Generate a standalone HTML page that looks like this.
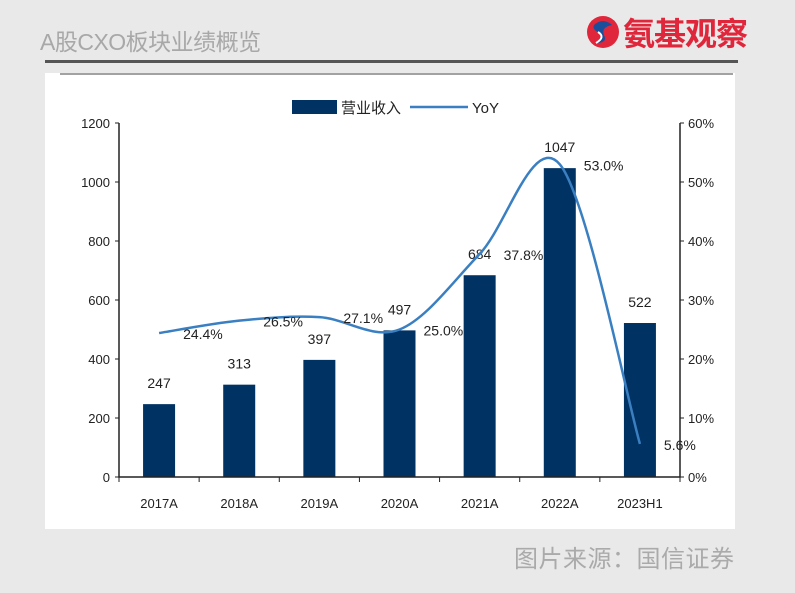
<!DOCTYPE html>
<html><head><meta charset="utf-8">
<style>
body{margin:0;width:795px;height:593px;overflow:hidden;background:#e9e9e9;font-family:"Liberation Sans","Noto Sans CJK SC",sans-serif;position:relative}
.title{position:absolute;left:40px;top:27px;font-size:23px;color:#a8a8a8;letter-spacing:-0.5px;line-height:30px}
.logo{position:absolute;left:586px;top:13px;height:38px;display:flex;align-items:center}
.logo span{font-size:32px;font-weight:bold;color:#e0263a;margin-left:3px;letter-spacing:-1px}
.hline{position:absolute;left:45px;top:60px;width:693px;height:3px;background:#555}
.panel{position:absolute;left:45px;top:73px;width:690px;height:456px;background:#fff}
.src{position:absolute;left:514px;top:539px;font-size:24px;color:#aaa;letter-spacing:0.5px}
</style></head><body>
<div class="title">A股CXO板块业绩概览</div>
<div class="logo">
<svg width="34" height="34" viewBox="0 0 34 34"><circle cx="17" cy="17" r="16" fill="#e0263a"/><path d="M8 10 Q17 2 26 10 Q15 12 18 20 Q22 28 10 28 Q20 22 12 17 Q6 14 8 10Z" fill="#1b4f9c"/><path d="M12 17 Q20 22 10 28" fill="none" stroke="#fff" stroke-width="2"/></svg>
<span>氨基观察</span></div>
<div class="hline"></div>
<div class="panel"></div>
<svg id="chart" width="795" height="593" style="position:absolute;left:0;top:0"></svg>
<div class="src">图片来源：国信证券</div>
<script>
const categories=["2017A","2018A","2019A","2020A","2021A","2022A","2023H1"];
const revenue=[247,313,397,497,684,1047,522];
const yoy=[24.4,26.5,27.1,25.0,37.8,53.0,5.6];
const leftTicks=[0,200,400,600,800,1000,1200];
const rightTicks=[0,10,20,30,40,50,60];
const NS="http://www.w3.org/2000/svg";
const svg=document.getElementById('chart');
const X0=119,X1=680,Y0=477,Y1=123;
const band=(X1-X0)/categories.length;
const xc=i=>X0+band*(i+0.5);
const yL=v=>Y0-(v/1200)*(Y0-Y1);
const yR=v=>Y0-(v/60)*(Y0-Y1);
function mk(t,a,txt){const e=document.createElementNS(NS,t);for(const k in a)e.setAttribute(k,a[k]);if(txt!==undefined)e.textContent=txt;svg.appendChild(e);return e;}
let e=mk('line',{x1:60,y1:74,x2:733,y2:74,stroke:'#444','stroke-width':1});

revenue.forEach((v,i)=>{
 let r=mk('rect',{x:xc(i)-16,y:yL(v),width:32,height:Y0-yL(v),fill:'#003263'});
 
 let t=mk('text',{x:xc(i),y:yL(v)-16,'text-anchor':'middle','font-size':14,fill:'#222'},String(v));
 
});
e=mk('path',{d:`M${X0} ${Y1}V${Y0}H${X1}V${Y1}`,fill:'none',stroke:'#222','stroke-width':1.5});

leftTicks.forEach(v=>{
 mk('line',{x1:X0-4,x2:X0,y1:yL(v),y2:yL(v),stroke:'#222'});
 let t=mk('text',{x:X0-9,y:yL(v)+5,'text-anchor':'end','font-size':13,fill:'#222'},String(v));
 
});
rightTicks.forEach(v=>{
 mk('line',{x1:X1,x2:X1+4,y1:yR(v),y2:yR(v),stroke:'#222'});
 let t=mk('text',{x:X1+8,y:yR(v)+5,'font-size':13,fill:'#222'},v+'%');
 
});
for(let i=0;i<=categories.length;i++){mk('line',{x1:X0+band*i,x2:X0+band*i,y1:Y0,y2:Y0+5,stroke:'#222'});}
categories.forEach((c,i)=>{
 let t=mk('text',{x:xc(i),y:Y0+31,'text-anchor':'middle','font-size':13,fill:'#222'},c);
 
});
const pts=yoy.map((v,i)=>[xc(i),yR(v)]);
let d=`M${pts[0][0]} ${pts[0][1]}`;
for(let i=0;i<pts.length-1;i++){
 const p0=pts[Math.max(0,i-1)],p1=pts[i],p2=pts[i+1],p3=pts[Math.min(pts.length-1,i+2)];
 const c1=[p1[0]+(p2[0]-p0[0])/6,p1[1]+(p2[1]-p0[1])/6],c2=[p2[0]-(p3[0]-p1[0])/6,p2[1]-(p3[1]-p1[1])/6];
 d+=`C${c1[0]} ${c1[1]} ${c2[0]} ${c2[1]} ${p2[0]} ${p2[1]}`;
}
e=mk('path',{d:d,fill:'none',stroke:'#3a7fc1','stroke-width':2.5});

yoy.forEach((v,i)=>{
 let t=mk('text',{x:xc(i)+24,y:yR(v)+6,'font-size':14,fill:'#222'},v.toFixed(1)+'%');
 
});
e=mk('rect',{x:292,y:100,width:45,height:14,fill:'#003263'});

e=mk('text',{x:341,y:113,'font-size':15,fill:'#222'},'营业收入');

e=mk('line',{x1:410,x2:468,y1:107,y2:107,stroke:'#3a7fc1','stroke-width':2.5});

e=mk('text',{x:472,y:113,'font-size':15,fill:'#222'},'YoY');

</script>
</body></html>
